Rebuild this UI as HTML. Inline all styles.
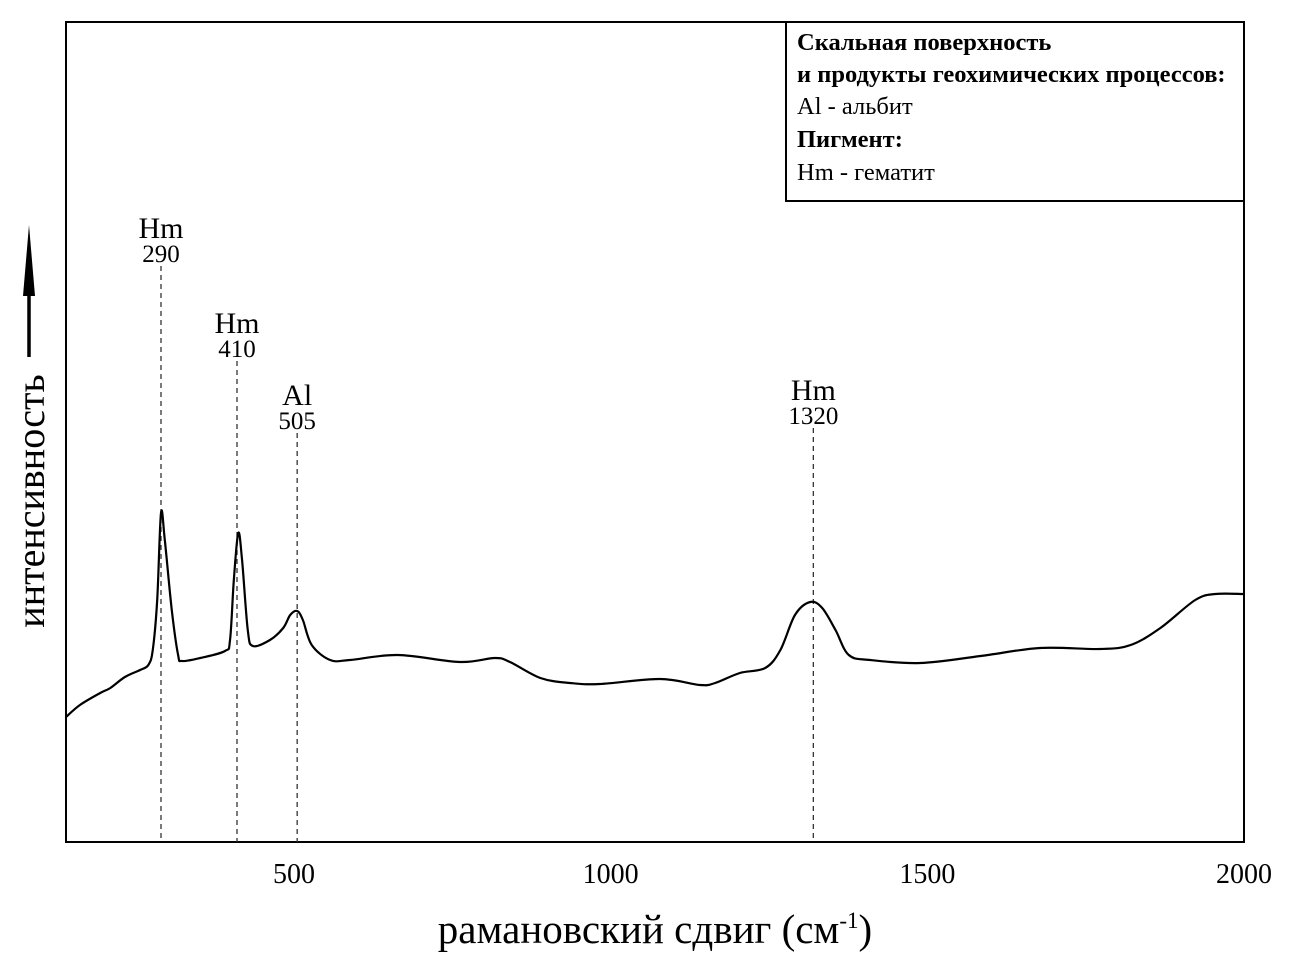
<!DOCTYPE html>
<html><head><meta charset="utf-8"><style>
body{margin:0;background:#fff}
svg text{font-family:"Liberation Serif",serif;fill:#000}
</style></head><body>
<svg id="chart" width="1289" height="972" xmlns="http://www.w3.org/2000/svg">
<rect x="66" y="22" width="1178" height="820" fill="none" stroke="#000" stroke-width="2"/>
<g id="ticks"></g>
<g id="peaks"></g>
<path id="curve" fill="none" stroke="#000" stroke-width="2.2"/>
<text x="655" y="943" font-size="41" text-anchor="middle">рамановский сдвиг (см<tspan dy="-15" font-size="23">-1</tspan><tspan dy="15">)</tspan></text>
<g>
<text transform="translate(44,501) rotate(-90)" font-size="40" text-anchor="middle">интенсивность</text>
<line x1="29" y1="357" x2="29" y2="260" stroke="#000" stroke-width="3.5"/>
<polygon points="29,225 23,296 35,296" fill="#000"/>
</g>
<g>
<rect x="786" y="22" width="458" height="179" fill="#fff" stroke="#000" stroke-width="2"/>
<text x="797" y="50" font-size="24.5" font-weight="bold">Скальная поверхность</text>
<text x="797" y="82" font-size="24.5" font-weight="bold">и продукты геохимических процессов:</text>
<text x="797" y="114" font-size="24.5">Al - альбит</text>
<text x="797" y="147" font-size="24.5" font-weight="bold">Пигмент:</text>
<text x="797" y="180" font-size="24.5">Hm - гематит</text>
</g>
</svg>
<script>
const xTicks=[500,1000,1500,2000];
const waves=[140,162,194,210,233,257,270,277,284,290,296,307,317,323,352,391,399,405,412,418,427,435,462,483,494,505,514,528,557,588,664,762,817,841,889,936,983,1078,1141,1165,1204,1244,1268,1291,1315,1334,1355,1376,1410,1489,1584,1678,1773,1821,1868,1923,1955,2000];
const intens=[125,137,149,154,165,172,177,192,242,329,302,232,187,181,184,191,202,262,309,282,212,196,202,214,227,231,222,197,182,182,187,180,184,180,164,159,158,163,157,159,169,174,192,227,240,234,212,187,182,179,186,194,193,197,214,242,248,248];
const peakPos=[290,410,505,1320];
const peakName=["Hm","Hm","Al","Hm"];
const labelBase=[262,357,429,424];
const X=w=>66+(w-140)*(1178/1860);
const Y=v=>842-v;
const ns="http://www.w3.org/2000/svg";
const tg=document.getElementById('ticks');
xTicks.forEach(t=>{const e=document.createElementNS(ns,'text');e.setAttribute('x',X(t));e.setAttribute('y',883);e.setAttribute('font-size','28');e.setAttribute('text-anchor','middle');e.textContent=t;


tg.appendChild(e);});
const pg=document.getElementById('peaks');
peakPos.forEach((p,i)=>{const x=X(p);const ly=labelBase[i];
const l=document.createElementNS(ns,'line');l.setAttribute('x1',x);l.setAttribute('x2',x);l.setAttribute('y1',ly+4);l.setAttribute('y2',842);l.setAttribute('stroke','#333');l.setAttribute('stroke-width','1.3');l.setAttribute('stroke-dasharray','5,4');


pg.appendChild(l);
const a=document.createElementNS(ns,'text');a.setAttribute('x',x);a.setAttribute('y',ly-24);a.setAttribute('font-size','30');a.setAttribute('text-anchor','middle');a.textContent=peakName[i];


pg.appendChild(a);
const b=document.createElementNS(ns,'text');b.setAttribute('x',x);b.setAttribute('y',ly);b.setAttribute('font-size','25');b.setAttribute('text-anchor','middle');b.textContent=p;


pg.appendChild(b);});
const pts=waves.map((w,i)=>[X(w),Y(intens[i])]);
let d='M'+pts[0][0]+','+pts[0][1];
for(let i=0;i<pts.length-1;i++){const p0=pts[Math.max(0,i-1)],p1=pts[i],p2=pts[i+1],p3=pts[Math.min(pts.length-1,i+2)];
const c1=[p1[0]+(p2[0]-p0[0])/6,p1[1]+(p2[1]-p0[1])/6],c2=[p2[0]-(p3[0]-p1[0])/6,p2[1]-(p3[1]-p1[1])/6];
d+=' C'+c1[0]+','+c1[1]+' '+c2[0]+','+c2[1]+' '+p2[0]+','+p2[1];}
document.getElementById('curve').setAttribute('d',d);
</script>
</body></html>
